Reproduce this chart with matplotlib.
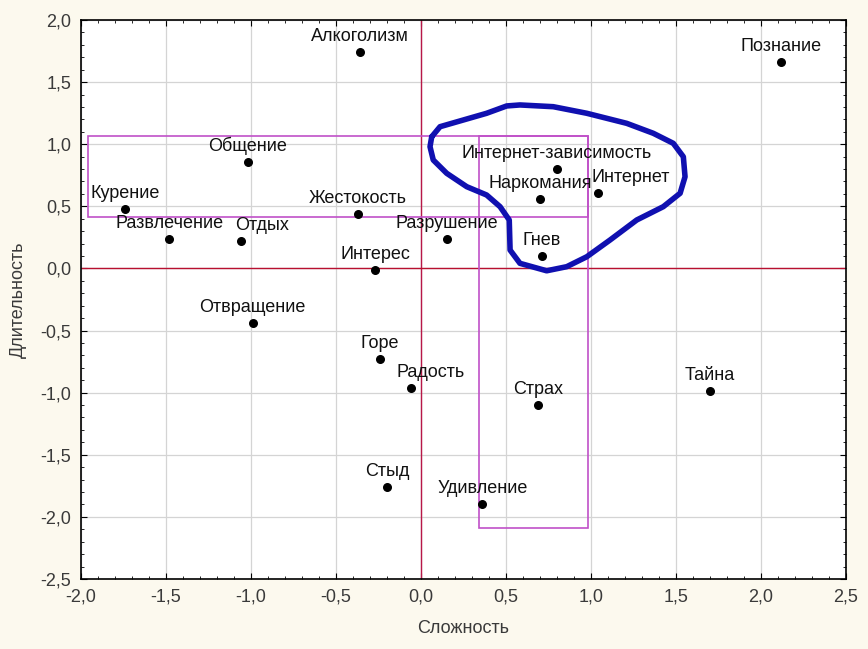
import matplotlib.pyplot as plt
from matplotlib.ticker import MultipleLocator, FuncFormatter

plt.rcParams['font.family'] = ['Liberation Sans', 'DejaVu Sans']

# Points: label, x (Сложность), y (Длительность)
labels = ['Алкоголизм', 'Познание', 'Общение', 'Курение', 'Жестокость',
          'Развлечение', 'Отдых', 'Интерес', 'Разрушение',
          'Интернет-зависимость', 'Наркомания', 'Интернет', 'Гнев',
          'Отвращение', 'Горе', 'Радость', 'Стыд', 'Удивление', 'Страх', 'Тайна']
xs = [-0.36, 2.12, -1.02, -1.74, -0.37,
      -1.48, -1.06, -0.27, 0.15,
      0.80, 0.70, 1.04, 0.71,
      -0.99, -0.24, -0.06, -0.20, 0.36, 0.69, 1.70]
ys = [1.74, 1.66, 0.86, 0.48, 0.44,
      0.24, 0.22, -0.01, 0.24,
      0.80, 0.56, 0.61, 0.10,
      -0.44, -0.73, -0.96, -1.76, -1.90, -1.10, -0.99]
# horizontal label shift (points) for a few labels
shift = {'Интернет': 24, 'Радость': 14, 'Отдых': 15}

# magenta boxes: (x0, y0, x1, y1)
boxes = [(-1.96, 0.41, 0.98, 1.07), (0.34, -2.09, 0.98, 1.07)]

# hand-drawn blue loop
loop_x = [0.063, 0.112, 0.249, 0.386, 0.504, 0.582, 0.778, 0.975, 1.210, 1.366,
          1.484, 1.543, 1.553, 1.524, 1.425, 1.269, 1.112, 0.975, 0.857, 0.739,
          0.582, 0.524, 0.519, 0.465, 0.386, 0.269, 0.151, 0.072, 0.053, 0.063]
loop_y = [1.060, 1.141, 1.195, 1.249, 1.308, 1.316, 1.302, 1.249, 1.168, 1.088,
          1.007, 0.899, 0.738, 0.605, 0.497, 0.390, 0.229, 0.094, 0.014, -0.019,
          0.041, 0.148, 0.390, 0.497, 0.591, 0.658, 0.766, 0.873, 0.980, 1.060]

fig = plt.figure(figsize=(8.68, 6.49), dpi=100, facecolor='#fcf9ee')
ax = fig.add_axes([0.0933, 0.1079, 0.8814, 0.8613])
ax.set_facecolor('white')

ax.set_xlim(-2.0, 2.5)
ax.set_ylim(-2.5, 2.0)
ax.xaxis.set_major_locator(MultipleLocator(0.5))
ax.yaxis.set_major_locator(MultipleLocator(0.5))
ax.xaxis.set_minor_locator(MultipleLocator(0.1))
ax.yaxis.set_minor_locator(MultipleLocator(0.1))
fmt = FuncFormatter(lambda v, p: f'{v:.1f}'.replace('.', ','))
ax.xaxis.set_major_formatter(fmt)
ax.yaxis.set_major_formatter(fmt)
ax.tick_params(which='both', direction='in', top=True, right=True,
               labelsize=13, labelcolor='#3a3a3a', pad=7)
ax.tick_params(which='major', length=4)
ax.tick_params(which='minor', length=2)
ax.grid(True, which='major', color='#d4d4d4', lw=0.9)
ax.set_axisbelow(True)
for s in ax.spines.values():
    s.set_linewidth(1.2)

ax.axvline(0, color='#b81848', lw=1.0, zorder=2)
ax.axhline(0, color='#b81030', lw=1.0, zorder=2)

for x0, y0, x1, y1 in boxes:
    ax.add_patch(plt.Rectangle((x0, y0), x1 - x0, y1 - y0, fill=False,
                               ec='#c050c8', lw=1.2, zorder=3))

ax.plot(loop_x, loop_y, color='#1010b0', lw=4, solid_capstyle='round',
        solid_joinstyle='round', zorder=4)

ax.scatter(xs, ys, s=30, color='black', zorder=5)
for lab, x, y in zip(labels, xs, ys):
    ax.annotate(lab, (x, y), xytext=(shift.get(lab, 0), 5),
                textcoords='offset points', ha='center', va='bottom',
                fontsize=13, color='#111111', zorder=6)

ax.set_xlabel('Сложность', fontsize=13, color='#3a3a3a', labelpad=10)
ax.set_ylabel('Длительность', fontsize=13, color='#3a3a3a', labelpad=10)

fig.savefig('out.png', dpi=100, facecolor=fig.get_facecolor())
